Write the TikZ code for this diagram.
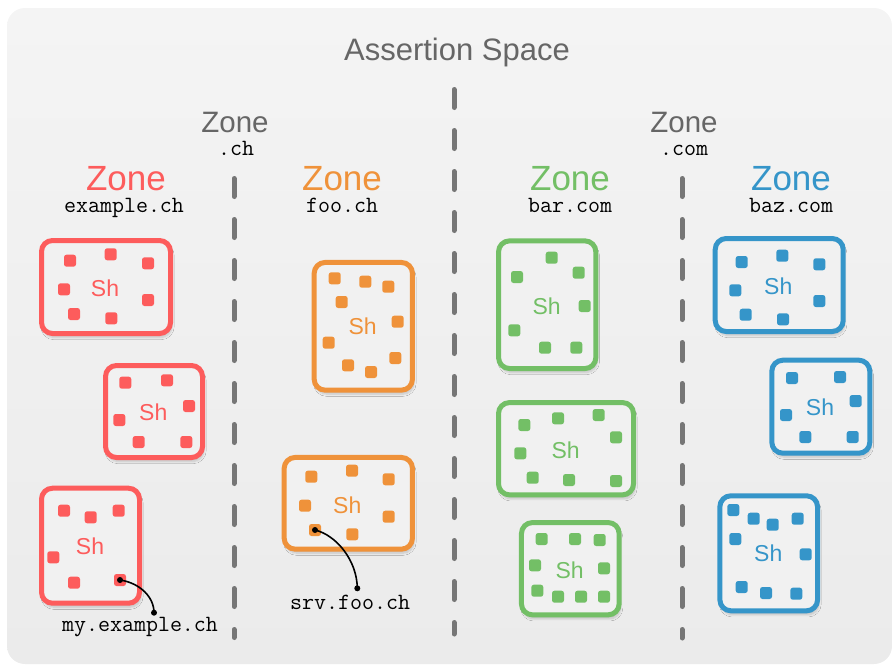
\documentclass[tikz,border=0pt]{standalone}
\usepackage{fontspec}
\setmainfont{Liberation Sans}
\usetikzlibrary{shadows.blur}

\definecolor{zred}{HTML}{FD5C5C}
\definecolor{zorange}{HTML}{EF923A}
\definecolor{zgreen}{HTML}{73BF66}
\definecolor{zblue}{HTML}{3595C9}
\definecolor{zgray}{HTML}{666666}
\definecolor{sepgray}{HTML}{767676}
\definecolor{bgtop}{HTML}{F4F4F4}
\definecolor{bgbot}{HTML}{EBEBEB}
\definecolor{boxfill}{HTML}{F1F1F1}

\tikzset{
  shard/.style={draw=#1, line width=5pt, rounded corners=11pt, fill=boxfill,
    inner sep=0pt, blur shadow={shadow xshift=1.5pt, shadow yshift=-4pt,
    shadow opacity=18, shadow blur steps=8}},
  srv/.style={fill=#1, rounded corners=2.5pt, minimum size=12pt, inner sep=0pt},
  shtext/.style={text=#1, font=\fontsize{23}{23}\selectfont, inner sep=0pt},
  zonetext/.style={text=#1, font=\fontsize{35}{35}\selectfont, anchor=base, inner sep=0pt},
  tldtext/.style={text=zgray, font=\fontsize{29.5}{29.5}\selectfont, anchor=base, inner sep=0pt},
  nametext/.style={font=\ttfamily\fontsize{23.3}{23.3}\selectfont, anchor=base, inner sep=0pt},
  zonesep/.style={draw=sepgray, line width=5pt, line cap=round, dash pattern=on 18pt off 23pt},
  leader/.style={draw=black, line width=1.6pt}
}

\begin{document}
\begin{tikzpicture}[x=1pt,y=-1pt]
\useasboundingbox (0,0) rectangle (893,664);
\shade[top color=bgtop, bottom color=bgbot, rounded corners=18pt] (7,8) rectangle (892,664);

\node[text=zgray, font=\fontsize{31}{31}\selectfont, anchor=base, inner sep=0pt] (space) at (457,60) {Assertion Space};

\node[tldtext] (tldch) at (235,132) {Zone};
\node[nametext] (tldchname) at (236,155) {.ch};
\node[tldtext] (tldcom) at (684,132) {Zone};
\node[nametext] (tldcomname) at (684,155) {.com};

\node[zonetext=zred] (zex) at (126,190) {Zone};
\node[nametext] (zexname) at (124,212) {example.ch};
\node[zonetext=zorange] (zfoo) at (342,190) {Zone};
\node[nametext] (zfooname) at (342,212) {foo.ch};
\node[zonetext=zgreen] (zbar) at (570,190) {Zone};
\node[nametext] (zbarname) at (570,212) {bar.com};
\node[zonetext=zblue] (zbaz) at (791,190) {Zone};
\node[nametext] (zbazname) at (791,212) {baz.com};

\coordinate (sepa1) at (234,178.5);
\coordinate (sepa2) at (234,637.5);
\coordinate (sepb1) at (454,89.5);
\coordinate (sepb2) at (454,634);
\coordinate (sepc1) at (682,178.5);
\coordinate (sepc2) at (682,638);
\draw[zonesep] (sepa1) -- (sepa2);
\draw[zonesep] (sepb1) -- (sepb2);
\draw[zonesep] (sepc1) -- (sepc2);

% example.ch
\node[shard=zred, minimum width=129pt, minimum height=93pt] (r1) at (106,287) {};
\node[shtext=zred] (r1sh) at (105,288.3) {Sh};
\foreach \x/\y [count=\i] in {70/260.7, 110.7/254.3, 148/263.3, 64/289.3, 148/300, 74/314, 111.3/318.3}
  \node[srv=zred] (r1d\i) at (\x,\y) {};

\node[shard=zred, minimum width=97pt, minimum height=92pt] (r2) at (154,411.5) {};
\node[shtext=zred] (r2sh) at (153.3,412.3) {Sh};
\foreach \x/\y [count=\i] in {125.3/382.7, 167/380.3, 189/406, 119.3/420, 138.7/442, 186.3/442}
  \node[srv=zred] (r2d\i) at (\x,\y) {};

\node[shard=zred, minimum width=98pt, minimum height=115pt] (r3) at (90.5,545.7) {};
\node[shtext=zred] (r3sh) at (90,546) {Sh};
\foreach \x/\y [count=\i] in {64/510.7, 90.7/517.3, 118.7/510.7, 53.3/557.3, 74/582.7}
  \node[srv=zred] (r3d\i) at (\x,\y) {};
\node[srv=zred] (myex) at (120,580) {};

% foo.ch
\node[shard=zorange, minimum width=98.3pt, minimum height=127.7pt] (o1) at (363.3,326.3) {};
\node[shtext=zorange] (o1sh) at (362.7,326.7) {Sh};
\foreach \x/\y [count=\i] in {334.7/278.3, 365.3/281.7, 388.3/286.7, 341.7/302, 397.7/321.7, 328.7/342.7, 395.3/358, 348/365.3, 371/372}
  \node[srv=zorange] (o1d\i) at (\x,\y) {};

\node[shard=zorange, minimum width=128.3pt, minimum height=91.7pt] (o2) at (348.3,503.3) {};
\node[shtext=zorange] (o2sh) at (347.3,505) {Sh};
\foreach \x/\y [count=\i] in {311.3/476.7, 352/470.7, 388.7/479.3, 305/505.7, 388.7/516.7, 352.3/534.3}
  \node[srv=zorange] (o2d\i) at (\x,\y) {};
\node[srv=zorange] (srvfoo) at (315,530) {};

% bar.com
\node[shard=zgreen, minimum width=97.3pt, minimum height=127.7pt] (g1) at (547.2,304.7) {};
\node[shtext=zgreen] (g1sh) at (546.7,306) {Sh};
\foreach \x/\y [count=\i] in {551.7/257.7, 517/277, 578.7/272.7, 584.7/306, 514.3/330.3, 545/347.7, 576.3/347.7}
  \node[srv=zgreen] (g1d\i) at (\x,\y) {};

\node[shard=zgreen, minimum width=135pt, minimum height=92.3pt] (g2) at (566,448.7) {};
\node[shtext=zgreen] (g2sh) at (565.7,450) {Sh};
\foreach \x/\y [count=\i] in {524.3/425, 558/418.3, 598.7/415, 616/437.3, 520.3/453.3, 532.7/477.7, 569/480, 616/481}
  \node[srv=zgreen] (g2d\i) at (\x,\y) {};

\node[shard=zgreen, minimum width=97.7pt, minimum height=92.3pt] (g3) at (570.3,568.7) {};
\node[shtext=zgreen] (g3sh) at (569.7,570) {Sh};
\foreach \x/\y [count=\i] in {541.7/539, 575/539, 599.7/540, 535/565.3, 604/568.3, 537.3/590.7, 558/596.7, 581/596.7, 604/596.7}
  \node[srv=zgreen] (g3d\i) at (\x,\y) {};

% baz.com
\node[shard=zblue, minimum width=128pt, minimum height=93pt] (b1) at (779.2,285) {};
\node[shtext=zblue] (b1sh) at (778.3,286) {Sh};
\foreach \x/\y [count=\i] in {741.7/262, 782.3/255.7, 819.3/264.3, 735.3/290.3, 819.3/301, 745.7/314.7, 783/319.3}
  \node[srv=zblue] (b1d\i) at (\x,\y) {};

\node[shard=zblue, minimum width=98pt, minimum height=93pt] (b2) at (820.8,406.7) {};
\node[shtext=zblue] (b2sh) at (820,407.7) {Sh};
\foreach \x/\y [count=\i] in {792/378, 840/377, 855.7/401, 786/415, 805.3/437, 852.7/437}
  \node[srv=zblue] (b2d\i) at (\x,\y) {};

\node[shard=zblue, minimum width=97.7pt, minimum height=115pt] (b3) at (768.7,553.3) {};
\node[shtext=zblue] (b3sh) at (768.3,553.7) {Sh};
\foreach \x/\y [count=\i] in {733.3/510, 753.7/518.7, 772.7/524.7, 797.7/518.7, 735.3/539, 805.7/554.3, 741.7/587, 766/593, 796.3/593.7}
  \node[srv=zblue] (b3d\i) at (\x,\y) {};

% server names
\coordinate (myexend) at (154,612.7);
\draw[leader] (myex.center) .. controls (140,583) and (154,597) .. (myexend);
\fill (myex.center) circle (3pt);
\fill (myexend) circle (3pt);
\node[nametext] (myexname) at (140,631) {my.example.ch};

\coordinate (srvfooend) at (357.3,588.3);
\draw[leader] (srvfoo.center) .. controls (336,535) and (357,560) .. (srvfooend);
\fill (srvfoo.center) circle (3pt);
\fill (srvfooend) circle (3pt);
\node[nametext] (srvfooname) at (350,609) {srv.foo.ch};
\end{tikzpicture}
\end{document}
